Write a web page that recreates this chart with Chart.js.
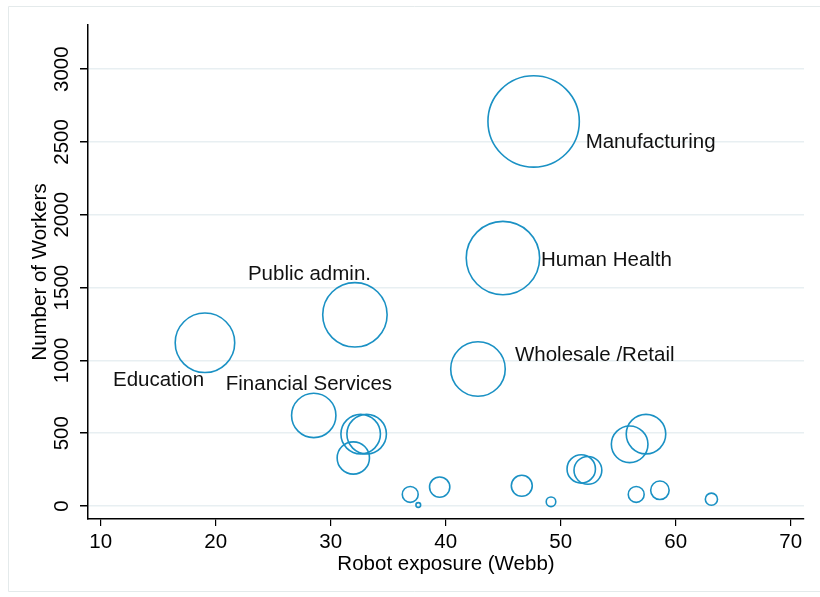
<!DOCTYPE html>
<html>
<head>
<meta charset="utf-8">
<script src="https://cdn.jsdelivr.net/npm/chart.js@4.4.1/dist/chart.umd.min.js"></script>
<style>
  html, body { margin: 0; background: #fff; }
  #wrap { width: 820px; height: 597px; }
</style>
</head>
<body>
<div id="wrap"><canvas id="chart" width="820" height="597"></canvas></div>
<script>
// one entry per industry; empty name = unlabelled bubble
const sectors = [
  "Manufacturing", "Human Health", "Public admin.", "Education",
  "Wholesale /Retail", "Financial Services",
  "", "", "", "", "", "", "", "", "", "", "", "", "", "", ""
];
const exposure = [
  47.65, 44.98, 32.11, 19.07,
  42.81, 28.53,
  32.61, 33.13, 31.97, 36.92, 37.62, 39.48, 46.62, 49.16,
  51.79, 52.37, 56.0, 57.42, 56.57, 58.63, 63.11
];
const workers = [
  2641, 1703, 1313, 1121,
  941, 622,
  494, 494, 330, 80, 7, 130, 139, 29,
  255, 245, 424, 494, 80, 108, 47
];
const xTicks = [10, 20, 30, 40, 50, 60, 70];
const yTicks = [0, 500, 1000, 1500, 2000, 2500, 3000];

const FONT = "'Liberation Sans', Arial, sans-serif";
const BLUE = "#1a91c4";
const SIZE_K = 0.889; // bubble radius per sqrt(worker)

// where each label sits relative to its bubble centre (px)
const labelOffsets = {
  "Manufacturing": [52, 21],
  "Human Health": [38, 2],
  "Public admin.": [-107, -40],
  "Education": [-92, 38],
  "Wholesale /Retail": [37, -14],
  "Financial Services": [-88, -31]
};

function noPad(s) {
  s.paddingTop = 0;
  s.paddingBottom = 0;
  s.paddingLeft = 0;
  s.paddingRight = 0;
}

const framePlugin = {
  id: "frame",
  beforeDraw(chart) {
    const c = chart.ctx;
    c.save();
    c.fillStyle = "#fff";
    c.fillRect(0, 0, chart.width, chart.height);
    c.strokeStyle = "#e4eaeb";
    c.lineWidth = 1;
    c.beginPath();
    c.moveTo(820, 6.5);
    c.lineTo(8.5, 6.5);
    c.lineTo(8.5, 591.5);
    c.lineTo(820, 591.5);
    c.stroke();
    c.restore();
  }
};

const labelPlugin = {
  id: "bubbleLabels",
  afterDatasetsDraw(chart) {
    const c = chart.ctx;
    const meta = chart.getDatasetMeta(0);
    c.save();
    c.font = "20.5px " + FONT;
    c.fillStyle = "#111";
    c.textAlign = "left";
    c.textBaseline = "middle";
    meta.data.forEach((pt, i) => {
      const name = sectors[i];
      if (!name) return;
      const off = labelOffsets[name];
      c.fillText(name, pt.x + off[0], pt.y + off[1]);
    });
    c.restore();
  }
};

const points = exposure.map((x, i) => ({
  x: x,
  y: workers[i],
  r: SIZE_K * Math.sqrt(workers[i])
}));

new Chart(document.getElementById("chart"), {
  type: "bubble",
  data: {
    datasets: [{
      data: points,
      backgroundColor: "rgba(0,0,0,0)",
      borderColor: BLUE,
      borderWidth: 1.6,
      hoverBorderWidth: 1.6,
      hoverRadius: 0
    }]
  },
  options: {
    responsive: false,
    devicePixelRatio: 1,
    animation: false,
    events: [],
    layout: { autoPadding: false, padding: { left: 0, top: 25, right: 16, bottom: 0 } },
    plugins: {
      legend: { display: false },
      tooltip: { enabled: false }
    },
    scales: {
      x: {
        type: "linear",
        min: 8.9,
        max: 71.16,
        afterBuildTicks: s => { s.ticks = xTicks.map(v => ({ value: v })); },
        afterFit: s => { s.height = 78; noPad(s); },
        grid: { drawOnChartArea: false, tickColor: "#000", tickLength: 7, lineWidth: 1.2 },
        border: { color: "#000", width: 1.5 },
        ticks: {
          color: "#000",
          font: { family: FONT, size: 20.5 },
          padding: 4,
          maxRotation: 0,
          callback: v => String(v)
        },
        title: {
          display: true,
          text: "Robot exposure (Webb)",
          color: "#000",
          font: { family: FONT, size: 20.5 },
          padding: { top: 0, bottom: 20 }
        }
      },
      y: {
        type: "linear",
        min: -89,
        max: 3303,
        afterBuildTicks: s => { s.ticks = yTicks.map(v => ({ value: v })); },
        afterFit: s => { s.width = 88; noPad(s); },
        grid: { color: "#e8eff2", lineWidth: 1.5, tickColor: "#000", tickLength: 8 },
        border: { color: "#000", width: 1.5 },
        ticks: {
          color: "#000",
          font: { family: FONT, size: 20.5 },
          minRotation: 90,
          maxRotation: 90,
          crossAlign: "center",
          padding: -5.5,
          callback: v => String(v)
        },
        title: {
          display: true,
          text: "Number of Workers",
          color: "#000",
          font: { family: FONT, size: 20.5 },
          padding: { top: 28, bottom: 0 }
        }
      }
    }
  },
  plugins: [framePlugin, labelPlugin]
});
</script>
</body>
</html>
